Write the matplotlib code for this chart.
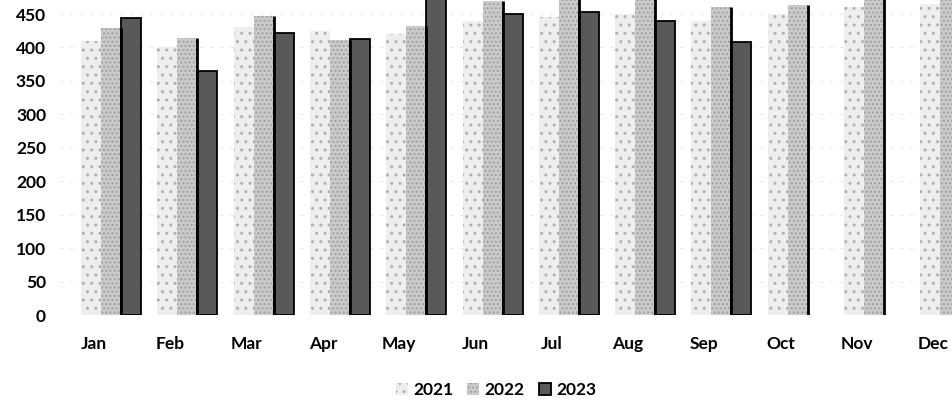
#!/usr/bin/env python3
# -*- coding: utf-8 -*-

"""
月別・年別の棒グラフ（2021〜2023）

スキャン画像から値を読み取って再現したもの。
上端が切れている棒は、見えている範囲からの推定値。
"""

import numpy as np
import matplotlib
matplotlib.use('Agg')
import matplotlib.pyplot as plt

# データ
月ラベル = ['Jan', 'Feb', 'Mar', 'Apr', 'May', 'Jun',
           'Jul', 'Aug', 'Sep', 'Oct', 'Nov', 'Dec']
年ラベル = ['2021', '2022', '2023']
値_2021 = [410, 400, 430, 425, 420, 440, 445, 450, 440, 450, 460, 465]
値_2022 = [429, 414, 447, 411, 432, 470, 475, 480, 461, 463, 485, 480]
値_2023 = [444, 365, 421, 412, 490, 450, 453, 440, 408, np.nan, np.nan, np.nan]
y目盛り = [0, 50, 100, 150, 200, 250, 300, 350, 400, 450]

# 見た目の設定
plt.rcParams['font.family'] = ['Lato', 'DejaVu Sans']
plt.rcParams['font.weight'] = 'bold'
文字サイズ = 12.5
棒幅 = 0.262
ずれ = 0.223   # スキャン時に棒がラベルより右にずれている分

fig = plt.figure(figsize=(9.53, 4.04), dpi=100)
ax = fig.add_axes([60 / 953, 89 / 404, 893 / 953, 315 / 404])

x = np.arange(len(月ラベル)) + ずれ

# 2021: ほぼ白に細かい点
b1 = ax.bar(x - 棒幅, 値_2021, 棒幅, color='#eeeeee', edgecolor='#b0b0b0',
            linewidth=0, hatch='..', label=年ラベル[0])
# 2022: 薄いグレー、右側に黒い縁
b2 = ax.bar(x, 値_2022, 棒幅, color='#cbcbcb', edgecolor='#a0a0a0',
            linewidth=0, hatch='....', label=年ラベル[1])
ax.vlines(x + 棒幅 / 2, 0, 値_2022, colors='black', linewidth=2)
# 2023: 濃いグレー、黒枠
b3 = ax.bar(x + 棒幅, 値_2023, 棒幅, color='#595959', edgecolor='black',
            linewidth=1.3, label=年ラベル[2])

ax.set_xlim(-0.446, 11.258)
ax.set_ylim(0, 471)
ax.set_xticks(np.arange(len(月ラベル)))
ax.set_xticklabels(月ラベル)
ax.set_yticks(y目盛り)
ax.tick_params(axis='x', length=0, pad=15, labelsize=文字サイズ)
ax.tick_params(axis='y', length=0, pad=10, labelsize=文字サイズ)

# 目盛り線（スキャンでかすれている）
ax.yaxis.grid(True, color='#dddddd', linewidth=0.6, linestyle=(0, (3, 9)))
ax.set_axisbelow(True)
for s in ax.spines.values():
    s.set_visible(False)

fig.legend(handles=[b1, b2, b3], loc='center', bbox_to_anchor=(496 / 953, 1 - 390 / 404),
           ncol=3, frameon=False, fontsize=文字サイズ, handlelength=0.7, handleheight=0.7,
           handletextpad=0.3, columnspacing=0.8)

fig.savefig('out.png', dpi=100)
